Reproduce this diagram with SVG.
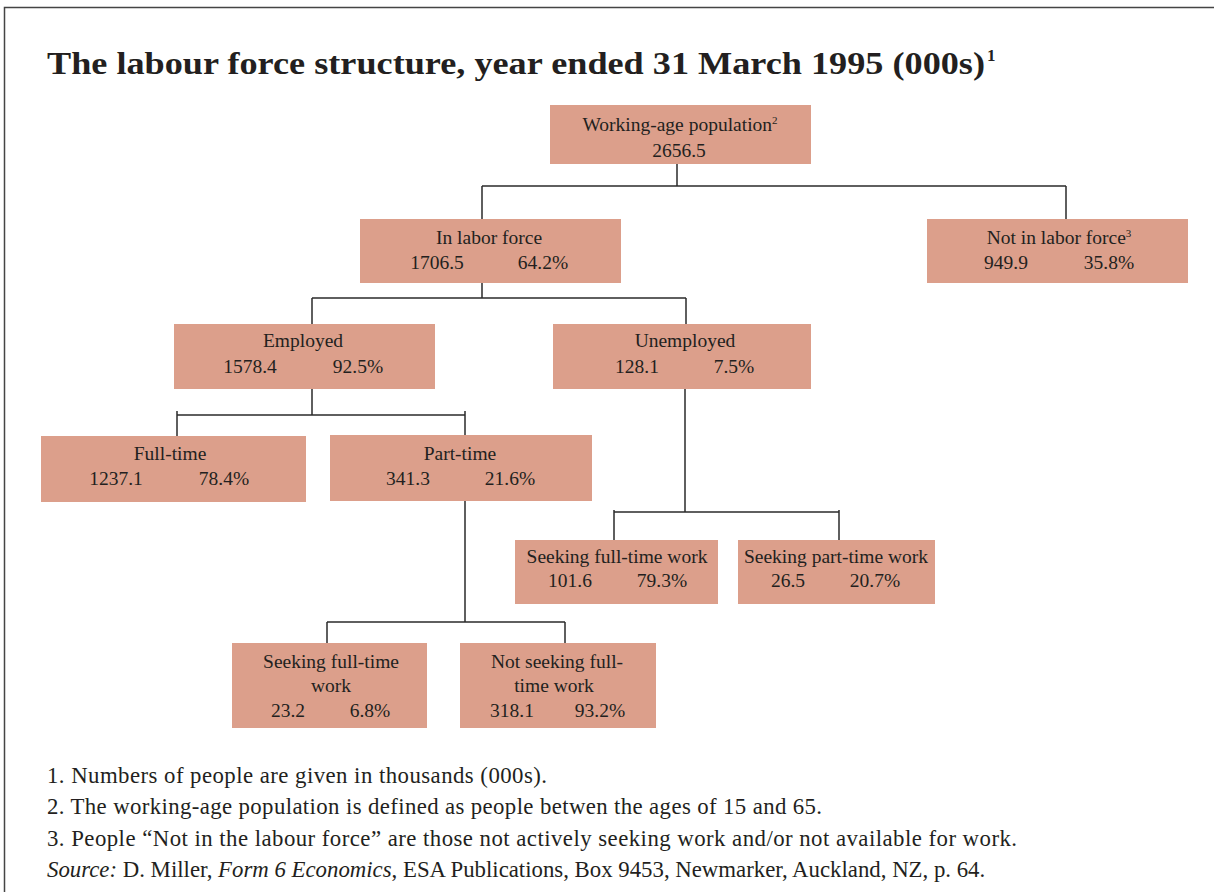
<svg xmlns="http://www.w3.org/2000/svg" width="1214" height="892" viewBox="0 0 1214 892">
<style>
.box{fill:#DC9F8B;}
.t{font-family:"Liberation Serif","Times New Roman",serif;font-size:19.5px;fill:#231F20;}
.m{text-anchor:middle;}
.sup{font-size:11px;}
.conn line{stroke:#2a2a2a;stroke-width:1.5;}
.fn{font-family:"Liberation Serif","Times New Roman",serif;font-size:22.8px;fill:#231F20;}
.title{font-family:"Liberation Serif","Times New Roman",serif;font-size:32px;font-weight:bold;fill:#231F20;}
</style>
<rect x="0" y="0" width="1214" height="892" fill="#fff"/>
<g id="frame"><polyline points="4.5,892 4.5,7.5 1214,7.5" fill="none" stroke="#444" stroke-width="1.5"/></g>
<text class="title" x="47" y="74"><tspan textLength="938" lengthAdjust="spacingAndGlyphs">The labour force structure, year ended 31 March 1995 (000s)</tspan><tspan font-size="17" dy="-13" dx="2">1</tspan></text>

<g class="conn" id="connectors">
<line x1="677" y1="164" x2="677" y2="186"/>
<line x1="482" y1="186" x2="1066" y2="186"/>
<line x1="482" y1="186" x2="482" y2="219"/>
<line x1="1066" y1="186" x2="1066" y2="219"/>
<line x1="482" y1="283" x2="482" y2="298"/>
<line x1="312" y1="298" x2="686" y2="298"/>
<line x1="312" y1="298" x2="312" y2="324"/>
<line x1="686" y1="298" x2="686" y2="324"/>
<line x1="312" y1="389" x2="312" y2="415"/>
<line x1="177" y1="415" x2="465" y2="415"/>
<line x1="177" y1="411" x2="177" y2="436"/>
<line x1="465" y1="411" x2="465" y2="435"/>
<line x1="685" y1="389" x2="685" y2="512"/>
<line x1="614" y1="512" x2="839" y2="512"/>
<line x1="614" y1="510" x2="614" y2="540"/>
<line x1="839" y1="510" x2="839" y2="540"/>
<line x1="465" y1="501" x2="465" y2="622"/>
<line x1="327" y1="622" x2="565" y2="622"/>
<line x1="327" y1="622" x2="327" y2="643"/>
<line x1="565" y1="622" x2="565" y2="643"/>
</g>

<g id="n-working-age">
<rect class="box" x="550" y="105" width="261" height="59"/>
<text class="t m" x="680" y="131">Working-age population<tspan class="sup" dy="-7">2</tspan></text>
<text class="t m" x="679" y="157">2656.5</text>
</g>
<g id="n-in-labor-force">
<rect class="box" x="360" y="219" width="261" height="64"/>
<text class="t m" x="489" y="244">In labor force</text>
<text class="t m" x="437" y="269">1706.5</text>
<text class="t m" x="543" y="269">64.2%</text>
</g>
<g id="n-not-in-labor-force">
<rect class="box" x="927" y="219" width="261" height="64"/>
<text class="t m" x="1059" y="244">Not in labor force<tspan class="sup" dy="-7">3</tspan></text>
<text class="t m" x="1006" y="269">949.9</text>
<text class="t m" x="1109" y="269">35.8%</text>
</g>
<g id="n-employed">
<rect class="box" x="174" y="324" width="261" height="65"/>
<text class="t m" x="303" y="347">Employed</text>
<text class="t m" x="250" y="373">1578.4</text>
<text class="t m" x="358" y="373">92.5%</text>
</g>
<g id="n-unemployed">
<rect class="box" x="553" y="324" width="258" height="65"/>
<text class="t m" x="685" y="347">Unemployed</text>
<text class="t m" x="637" y="373">128.1</text>
<text class="t m" x="734" y="373">7.5%</text>
</g>
<g id="n-full-time">
<rect class="box" x="41" y="436" width="265" height="66"/>
<text class="t m" x="170" y="460">Full-time</text>
<text class="t m" x="116" y="485">1237.1</text>
<text class="t m" x="224" y="485">78.4%</text>
</g>
<g id="n-part-time">
<rect class="box" x="330" y="435" width="262" height="66"/>
<text class="t m" x="460" y="460">Part-time</text>
<text class="t m" x="408" y="485">341.3</text>
<text class="t m" x="510" y="485">21.6%</text>
</g>
<g id="n-unemp-seek-full">
<rect class="box" x="515" y="540" width="203" height="64"/>
<text class="t m" x="617" y="563">Seeking full-time work</text>
<text class="t m" x="570" y="587">101.6</text>
<text class="t m" x="662" y="587">79.3%</text>
</g>
<g id="n-unemp-seek-part">
<rect class="box" x="738" y="540" width="197" height="64"/>
<text class="t m" x="836" y="563">Seeking part-time work</text>
<text class="t m" x="788" y="587">26.5</text>
<text class="t m" x="875" y="587">20.7%</text>
</g>
<g id="n-pt-seek-full">
<rect class="box" x="232" y="643" width="195" height="85"/>
<text class="t m" x="331" y="668">Seeking full-time</text>
<text class="t m" x="331" y="692">work</text>
<text class="t m" x="288" y="717">23.2</text>
<text class="t m" x="370" y="717">6.8%</text>
</g>
<g id="n-pt-not-seek-full">
<rect class="box" x="460" y="643" width="196" height="85"/>
<text class="t m" x="557" y="668">Not seeking full-</text>
<text class="t m" x="554" y="692">time work</text>
<text class="t m" x="512" y="717">318.1</text>
<text class="t m" x="600" y="717">93.2%</text>
</g>

<g id="footnotes">
<text class="fn" x="47" y="783" textLength="500" lengthAdjust="spacing">1. Numbers of people are given in thousands (000s).</text>
<text class="fn" x="47" y="814" textLength="775" lengthAdjust="spacing">2. The working-age population is defined as people betwen the ages of 15 and 65.</text>
<text class="fn" x="47" y="846" textLength="970" lengthAdjust="spacing">3. People “Not in the labour force” are those not actively seeking work and/or not available for work.</text>
<text class="fn" x="47" y="877"><tspan font-style="italic">Source:</tspan> D. Miller, <tspan font-style="italic">Form 6 Economics</tspan>, ESA Publications, Box 9453, Newmarker, Auckland, NZ, p. 64.</text>
</g>
</svg>
